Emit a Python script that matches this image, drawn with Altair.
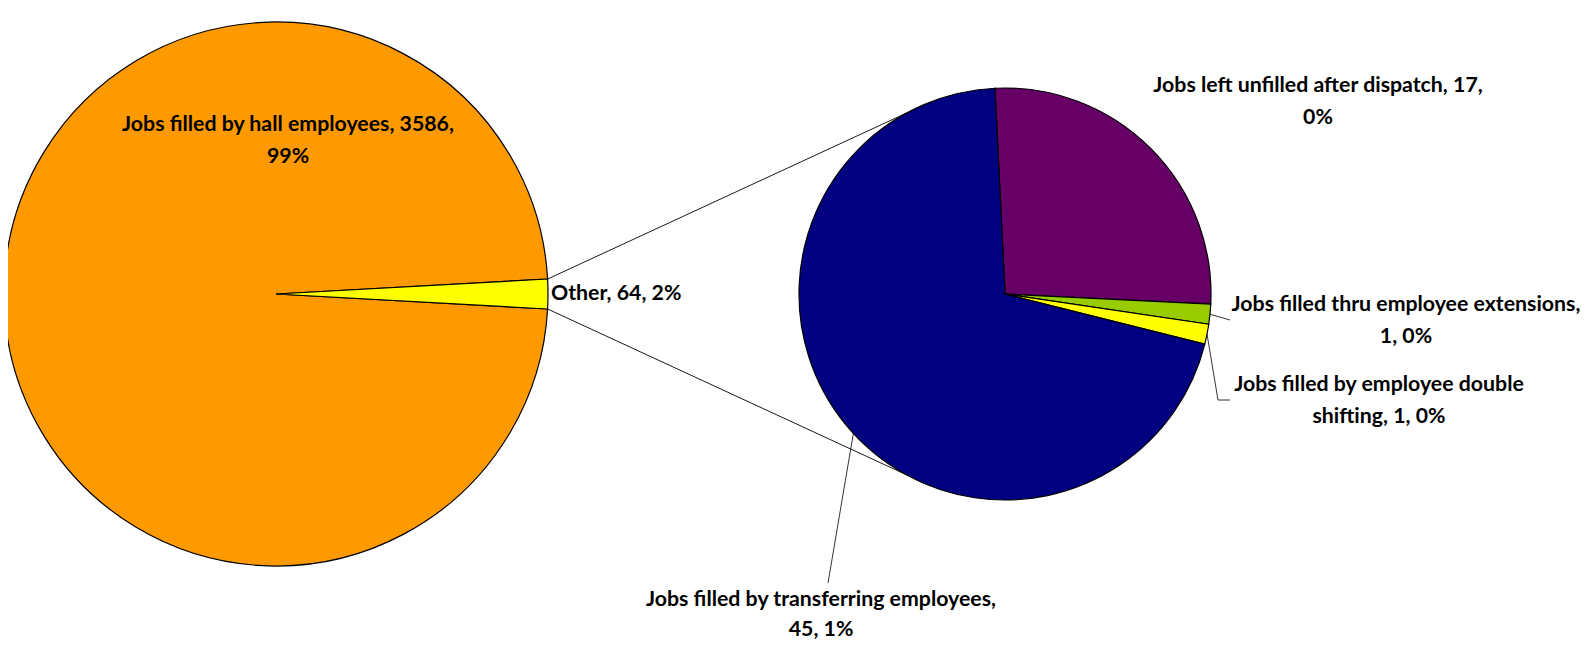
import math
import textwrap
import altair as alt
import pandas as pd

# ---------------- data ----------------
main_cats = ["Jobs filled by hall employees", "Other"]
main_vals = [3586, 64]
main_pcts = ["99%", "2%"]
main_colors = ["#FF9900", "#FFFF00"]

sub_cats = [
    "Jobs left unfilled after dispatch",
    "Jobs filled thru employee extensions",
    "Jobs filled by employee double shifting",
    "Jobs filled by transferring employees",
]
sub_vals = [17, 1, 1, 45]
sub_pcts = ["0%", "0%", "0%", "1%"]
sub_colors = ["#660066", "#99CC00", "#FFFF00", "#000080"]

# ---------------- layout ----------------
W, H = 1574, 639
M = 8  # page margin
L_CX, L_CY, L_R = 276, 294, 272
R_CX, R_CY, R_R = 1005, 294, 206
SUB_START_DEG = -2.8
CONN_DEG = [-28.5, 209.0]
FONT = "Lato, sans-serif"
FS = 21.3
LH = 32

# label layout: (x, y of first line, align, wrap width, line height)
label_layout = {
    "Jobs filled by hall employees": (288, 125, "center", 36, LH),
    "Other": (551, 294, "left", 60, LH),
    "Jobs left unfilled after dispatch": (1318, 86, "center", 38, LH),
    "Jobs filled thru employee extensions": (1406, 305, "center", 37, LH),
    "Jobs filled by employee double shifting": (1379, 385, "center", 30, LH),
    "Jobs filled by transferring employees": (821, 600, "center", 38, 30),
}
# leader lines (label anchor ends), rim end computed from slice angles
leader_ends = {
    "Jobs filled thru employee extensions": [(1230, 320)],
    "Jobs filled by employee double shifting": [(1218, 400), (1230, 400)],
    "Jobs filled by transferring employees": [(828, 583)],
}
leader_rim_deg = {
    "Jobs filled by transferring employees": 227.4,
}


def px(x, y):
    return x - M, y - M


def rim(cx, cy, r, deg):
    a = math.radians(deg)
    return cx + r * math.sin(a), cy - r * math.cos(a)


all_cats = main_cats + sub_cats
all_colors = main_colors + sub_colors
color_scale = alt.Scale(domain=all_cats, range=all_colors)

main_total = sum(main_vals)
sub_total = sum(sub_vals)

# main pie: "Other" centred at 3 o'clock
half_other = math.pi * main_vals[1] / main_total
main_a0 = math.pi / 2 + half_other
sub_a0 = math.radians(SUB_START_DEG) + 2 * math.pi

df_main = pd.DataFrame({"cat": main_cats, "value": main_vals, "idx": range(len(main_cats))})
df_sub = pd.DataFrame({"cat": sub_cats, "value": sub_vals, "idx": range(len(sub_cats))})

lx, ly = px(L_CX, L_CY)
rx, ry = px(R_CX, R_CY)

main_pie = alt.Chart(df_main).mark_arc(
    radius=L_R, stroke="black", strokeWidth=1.2
).encode(
    theta=alt.Theta("value:Q", stack=True,
                    scale=alt.Scale(range=[main_a0, main_a0 + 2 * math.pi])),
    color=alt.Color("cat:N", scale=color_scale, legend=None),
    order=alt.Order("idx:Q"),
    x=alt.value(lx), y=alt.value(ly),
)

sub_pie = alt.Chart(df_sub).mark_arc(
    radius=R_R, stroke="black", strokeWidth=1.2
).encode(
    theta=alt.Theta("value:Q", stack=True,
                    scale=alt.Scale(range=[sub_a0, sub_a0 + 2 * math.pi])),
    color=alt.Color("cat:N", scale=color_scale, legend=None),
    order=alt.Order("idx:Q"),
    x=alt.value(rx), y=alt.value(ry),
)

layers = [main_pie, sub_pie]

one = pd.DataFrame({"k": [0]})


def seg(p1, p2, width=0.9):
    x1, y1 = px(*p1)
    x2, y2 = px(*p2)
    return alt.Chart(one).mark_rule(color="black", strokeWidth=width).encode(
        x=alt.value(x1), y=alt.value(y1), x2=alt.value(x2), y2=alt.value(y2)
    )


# connectors from "Other" slice edges to the secondary pie
p_top = (L_CX + L_R * math.cos(half_other), L_CY - L_R * math.sin(half_other))
p_bot = (L_CX + L_R * math.cos(half_other), L_CY + L_R * math.sin(half_other))
layers.append(seg(p_top, rim(R_CX, R_CY, R_R, CONN_DEG[0])))
layers.append(seg(p_bot, rim(R_CX, R_CY, R_R, CONN_DEG[1])))

# slice mid angles on the secondary pie
cum = 0.0
mid_deg = {}
for c, v in zip(sub_cats, sub_vals):
    mid_deg[c] = SUB_START_DEG + 360.0 * (cum + v / 2) / sub_total
    cum += v

for c, ends in leader_ends.items():
    deg = leader_rim_deg.get(c, mid_deg[c])
    pts = [rim(R_CX, R_CY, R_R, deg)] + ends
    for a, b in zip(pts[:-1], pts[1:]):
        layers.append(seg(a, b, 0.8))

# labels
vals = dict(zip(all_cats, main_vals + sub_vals))
pcts = dict(zip(all_cats, main_pcts + sub_pcts))
for c in all_cats:
    x, y, align, wrapw, lh = label_layout[c]
    full = f"{c}, {vals[c]}, {pcts[c]}"
    text = "\n".join(textwrap.wrap(full, wrapw))
    tx, ty = px(x, y)
    layers.append(
        alt.Chart(pd.DataFrame({"label": [text]})).mark_text(
            align=align, baseline="middle", lineBreak="\n", lineHeight=lh,
            font=FONT, fontSize=FS, fontWeight="bold", color="black",
        ).encode(text="label:N", x=alt.value(tx), y=alt.value(ty))
    )

chart = alt.layer(*layers).resolve_scale(theta="independent").properties(
    width=W, height=H, padding=0, autosize=alt.AutoSizeParams(type="none"),
    background="white",
).configure_view(stroke=None)

chart.save("out.html", embed_options={"renderer": "svg", "actions": False})
